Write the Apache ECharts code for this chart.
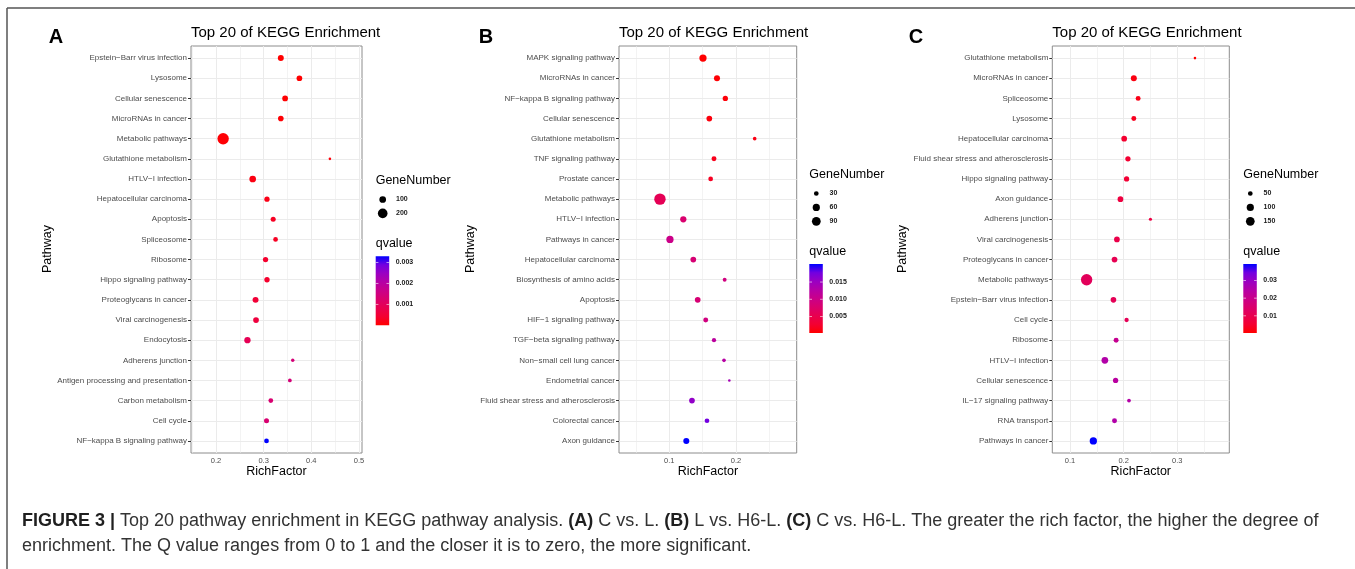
<!DOCTYPE html>
<html>
<head>
<meta charset="utf-8">
<script src="https://cdn.jsdelivr.net/npm/echarts@6/dist/echarts.min.js"></script>
<style>
  html, body { margin: 0; padding: 0; background: #ffffff; }
  #chart { width: 1355px; height: 569px; }
</style>
</head>
<body>
<div id="chart"></div>
<script>
// ---- Panel A: C vs. L ----
const pathwaysA = ["Epstein\u2212Barr virus infection", "Lysosome", "Cellular senescence", "MicroRNAs in cancer",
  "Metabolic pathways", "Glutathione metabolism", "HTLV\u2212I infection", "Hepatocellular carcinoma", "Apoptosis",
  "Spliceosome", "Ribosome", "Hippo signaling pathway", "Proteoglycans in cancer", "Viral carcinogenesis",
  "Endocytosis", "Adherens junction", "Antigen processing and presentation", "Carbon metabolism", "Cell cycle",
  "NF\u2212kappa B signaling pathway"];
const richA = [0.336, 0.375, 0.345, 0.336, 0.215, 0.439, 0.277, 0.307, 0.320, 0.325,
  0.304, 0.307, 0.283, 0.284, 0.266, 0.361, 0.355, 0.315, 0.306, 0.306];
const geneA = [83, 77, 78, 76, 285, 48, 99, 70, 66, 62, 70, 71, 83, 78, 90, 50, 52, 62, 66, 62];
const qA = [0.00001, 0.00002, 0.00003, 0.00004, 0.00005, 0.0001, 0.00015, 0.0002, 0.0003, 0.0003,
  0.0004, 0.0004, 0.0005, 0.0006, 0.0009, 0.0014, 0.0014, 0.0013, 0.0013, 0.0033];
const xTicksA = [0.2, 0.3, 0.4, 0.5];
const geneBreaksA = [100, 200];
const qBreaksA = [0.001, 0.002, 0.003];

// ---- Panel B: L vs. H6-L ----
const pathwaysB = ["MAPK signaling pathway", "MicroRNAs in cancer", "NF\u2212kappa B signaling pathway", "Cellular senescence",
  "Glutathione metabolism", "TNF signaling pathway", "Prostate cancer", "Metabolic pathways", "HTLV\u2212I infection",
  "Pathways in cancer", "Hepatocellular carcinoma", "Biosynthesis of amino acids", "Apoptosis",
  "HIF\u22121 signaling pathway", "TGF\u2212beta signaling pathway", "Non\u2212small cell lung cancer", "Endometrial cancer",
  "Fluid shear stress and atherosclerosis", "Colorectal cancer", "Axon guidance"];
const richB = [0.1505, 0.1715, 0.184, 0.160, 0.228, 0.167, 0.162, 0.086, 0.121, 0.101,
  0.136, 0.183, 0.1426, 0.1546, 0.167, 0.182, 0.190, 0.134, 0.1565, 0.1255];
const geneB = [61, 43, 35, 39, 24, 32, 30, 160, 46, 61, 39, 25, 39, 32, 27, 24, 22, 39, 30, 43];
const qB = [0.0002, 0.0004, 0.0006, 0.0008, 0.0012, 0.0016, 0.002, 0.0057, 0.0079, 0.0101,
  0.0083, 0.0093, 0.0083, 0.0093, 0.012, 0.0125, 0.0141, 0.0157, 0.0177, 0.0202];
const xTicksB = [0.1, 0.2];
const geneBreaksB = [30, 60, 90];
const qBreaksB = [0.005, 0.010, 0.015];

// ---- Panel C: C vs. H6-L ----
const pathwaysC = ["Glutathione metabolism", "MicroRNAs in cancer", "Spliceosome", "Lysosome", "Hepatocellular carcinoma",
  "Fluid shear stress and atherosclerosis", "Hippo signaling pathway", "Axon guidance", "Adherens junction",
  "Viral carcinogenesis", "Proteoglycans in cancer", "Metabolic pathways", "Epstein\u2212Barr virus infection",
  "Cell cycle", "Ribosome", "HTLV\u2212I infection", "Cellular senescence", "IL\u221217 signaling pathway",
  "RNA transport", "Pathways in cancer"];
const richC = [0.333, 0.219, 0.227, 0.219, 0.201, 0.208, 0.2055, 0.194, 0.250, 0.1875,
  0.183, 0.131, 0.181, 0.2055, 0.186, 0.165, 0.185, 0.210, 0.183, 0.1435];
const geneC = [36, 71, 53, 53, 65, 58, 58, 65, 37, 65, 65, 272, 64, 45, 53, 87, 58, 40, 53, 103];
const qC = [0.0002, 0.0018, 0.0025, 0.0033, 0.0049, 0.0053, 0.0057, 0.0076, 0.008, 0.0092,
  0.0104, 0.0119, 0.0111, 0.0111, 0.0209, 0.0252, 0.0237, 0.0248, 0.0252, 0.0393];
const xTicksC = [0.1, 0.2, 0.3];
const geneBreaksC = [50, 100, 150];
const qBreaksC = [0.01, 0.02, 0.03];

// ---- Shared styling ----
const FONT = '"Liberation Sans", Arial, Helvetica, sans-serif';
// red -> blue gradient sampled in Lab space
const Q_COLORS = ['#FF0000', '#F40031', '#E8004F', '#DA006C', '#CA0089', '#B500A5', '#9A00C2', '#7300E0', '#0000FF'];
const PLOT_TOP = 46, PLOT_H = 407;
const DOT_MIN = 2.6, DOT_MAX = 11.4;

const panels = [
  { letter: 'A', path: pathwaysA, rich: richA, gene: geneA, q: qA, xTicks: xTicksA, geneBreaks: geneBreaksA, qBreaks: qBreaksA,
    plotLeft: 191, plotWidth: 171, xMin: 0.1476, xMax: 0.5063, letterX: 56, pathwayX: 48, legendLeft: 375.7, legendTop: 181 },
  { letter: 'B', path: pathwaysB, rich: richB, gene: geneB, q: qB, xTicks: xTicksB, geneBreaks: geneBreaksB, qBreaks: qBreaksB,
    plotLeft: 619, plotWidth: 177.7, xMin: 0.0246, xMax: 0.291, letterX: 486, pathwayX: 471, legendLeft: 809.3, legendTop: 175 },
  { letter: 'C', path: pathwaysC, rich: richC, gene: geneC, q: qC, xTicks: xTicksC, geneBreaks: geneBreaksC, qBreaks: qBreaksC,
    plotLeft: 1052.3, plotWidth: 177, xMin: 0.067, xMax: 0.397, letterX: 916, pathwayX: 903, legendLeft: 1243.3, legendTop: 175 }
];

// area-proportional dot size, rescaled over the panel's gene-count range
function sizeScale(genes) {
  const lo = Math.min(...genes), hi = Math.max(...genes);
  return v => DOT_MIN + (DOT_MAX - DOT_MIN) * Math.sqrt(Math.max(0, v - lo) / (hi - lo));
}

function gridLineData(p) {
  const d = [];
  for (let i = 0; i < p.path.length; i++) d.push({ yAxis: i });
  const step = 0.05;
  for (let k = Math.ceil(p.xMin / step - 1e-9); k * step <= p.xMax + 1e-9; k++) {
    const v = +(k * step).toFixed(2);
    const major = Math.abs(v * 10 - Math.round(v * 10)) < 1e-6;
    d.push({ xAxis: v, lineStyle: { width: major ? 1 : 0.6 } });
  }
  return d;
}

const grids = [], xAxes = [], yAxes = [], series = [], visualMaps = [], graphics = [];

panels.forEach((p, i) => {
  const sz = sizeScale(p.gene);
  const qMin = Math.min(...p.q), qMax = Math.max(...p.q);
  const idx = p.path.map((_, j) => j);

  grids.push({ left: p.plotLeft, top: PLOT_TOP, width: p.plotWidth, height: PLOT_H, show: true,
    backgroundColor: '#ffffff', borderColor: '#8c8c8c', borderWidth: 1 });

  xAxes.push({ type: 'value', gridIndex: i, min: p.xMin, max: p.xMax,
    axisLine: { show: false }, splitLine: { show: false },
    axisTick: { show: true, length: 3, customValues: p.xTicks, lineStyle: { color: '#333333', width: 1 } },
    axisLabel: { customValues: p.xTicks, formatter: v => v.toFixed(1), fontFamily: FONT, fontSize: 7.5,
      color: '#4d4d4d', margin: 4 } });

  yAxes.push({ type: 'value', gridIndex: i, min: -0.6, max: p.path.length - 0.4, inverse: true,
    axisLine: { show: false }, splitLine: { show: false },
    axisTick: { show: true, length: 3, customValues: idx, lineStyle: { color: '#333333', width: 1 } },
    axisLabel: { customValues: idx, formatter: v => p.path[Math.round(v)], fontFamily: FONT, fontSize: 8,
      color: '#4d4d4d', margin: 4 } });

  series.push({ type: 'scatter', xAxisIndex: i, yAxisIndex: i, z: 3,
    data: p.rich.map((r, j) => [r, j, p.q[j], p.gene[j]]),
    symbol: 'circle', symbolSize: v => sz(v[3]), itemStyle: { opacity: 1 },
    markLine: { silent: true, z: 1, symbol: ['none', 'none'], label: { show: false },
      emphasis: { disabled: true }, animation: false,
      lineStyle: { color: '#ebebeb', type: 'solid', width: 1 }, data: gridLineData(p) } });

  visualMaps.push({ type: 'continuous', show: false, seriesIndex: i, dimension: 2, min: qMin, max: qMax,
    inRange: { color: Q_COLORS } });

  // panel letter, title, axis titles
  graphics.push({ type: 'text', x: p.letterX, y: 37.5, style: { text: p.letter, font: 'bold 20px ' + FONT,
    fill: '#000000', align: 'center', verticalAlign: 'middle' } });
  graphics.push({ type: 'text', x: p.plotLeft, y: 32.5, style: { text: 'Top 20 of KEGG Enrichment',
    font: '15px ' + FONT, fill: '#000000', align: 'left', verticalAlign: 'middle' } });
  graphics.push({ type: 'text', x: p.plotLeft + p.plotWidth / 2, y: 472, style: { text: 'RichFactor',
    font: '12.5px ' + FONT, fill: '#000000', align: 'center', verticalAlign: 'middle' } });
  graphics.push({ type: 'text', x: p.pathwayX, y: 249, rotation: Math.PI / 2, style: { text: 'Pathway',
    font: '12.5px ' + FONT, fill: '#000000', align: 'center', verticalAlign: 'middle' } });

  // size legend
  const L = p.legendLeft, T = p.legendTop;
  graphics.push({ type: 'text', x: L, y: T, style: { text: 'GeneNumber', font: '12.5px ' + FONT,
    fill: '#000000', align: 'left', verticalAlign: 'middle' } });
  const rowY = T + 18.5;
  p.geneBreaks.forEach((g, k) => {
    const y = rowY + k * 13.9;
    graphics.push({ type: 'circle', shape: { cx: L + 7, cy: y, r: sz(g) / 2 }, style: { fill: '#000000' } });
    graphics.push({ type: 'text', x: L + 20.3, y: y, style: { text: String(g), font: 'bold 7px ' + FONT,
      fill: '#1a1a1a', align: 'left', verticalAlign: 'middle' } });
  });
  const lastY = rowY + (p.geneBreaks.length - 1) * 13.9;

  // colour bar legend
  const qTitleY = lastY + 30.3;
  const barTop = qTitleY + 12.5, barH = 69, barW = 13.5;
  graphics.push({ type: 'text', x: L, y: qTitleY, style: { text: 'qvalue', font: '12.5px ' + FONT,
    fill: '#000000', align: 'left', verticalAlign: 'middle' } });
  graphics.push({ type: 'rect', shape: { x: L, y: barTop, width: barW, height: barH },
    style: { fill: new echarts.graphic.LinearGradient(0, 1, 0, 0,
      Q_COLORS.map((c, k) => ({ offset: k / (Q_COLORS.length - 1), color: c }))) } });
  p.qBreaks.forEach(b => {
    const y = barTop + barH * (1 - (b - qMin) / (qMax - qMin));
    graphics.push({ type: 'line', shape: { x1: L, y1: y, x2: L + 2.7, y2: y }, style: { stroke: '#ffffff', lineWidth: 0.6 } });
    graphics.push({ type: 'line', shape: { x1: L + barW - 2.7, y1: y, x2: L + barW, y2: y }, style: { stroke: '#ffffff', lineWidth: 0.6 } });
    graphics.push({ type: 'text', x: L + 20, y: y, style: { text: b.toFixed(i === 2 ? 2 : 3),
      font: 'bold 7px ' + FONT, fill: '#1a1a1a', align: 'left', verticalAlign: 'middle' } });
  });
});

// figure frame
graphics.push({ type: 'line', shape: { x1: 7, y1: 8, x2: 1355, y2: 8 }, style: { stroke: '#555555', lineWidth: 1.5 } });
graphics.push({ type: 'line', shape: { x1: 7, y1: 8, x2: 7, y2: 569 }, style: { stroke: '#555555', lineWidth: 1.5 } });

// caption
graphics.push({ type: 'text', x: 22, y: 521, style: {
  text: '{b|FIGURE 3 |} Top 20 pathway enrichment in KEGG pathway analysis. {b|(A)} C vs. L. {b|(B)} L vs. H6-L. {b|(C)} C vs. H6-L. The greater the rich factor, the higher the degree of',
  font: '18px ' + FONT, fill: '#333333', align: 'left', verticalAlign: 'middle',
  rich: { b: { fontWeight: 'bold', fontSize: 18, fontFamily: FONT, fill: '#1f1f1f' } } } });
graphics.push({ type: 'text', x: 22, y: 546, style: {
  text: 'enrichment. The Q value ranges from 0 to 1 and the closer it is to zero, the more significant.',
  font: '18px ' + FONT, fill: '#333333', align: 'left', verticalAlign: 'middle' } });

const chart = echarts.init(document.getElementById('chart'), null, { renderer: 'canvas' });
chart.setOption({
  animation: false,
  backgroundColor: '#ffffff',
  grid: grids,
  xAxis: xAxes,
  yAxis: yAxes,
  visualMap: visualMaps,
  series: series,
  graphic: { elements: graphics }
});
</script>
</body>
</html>
